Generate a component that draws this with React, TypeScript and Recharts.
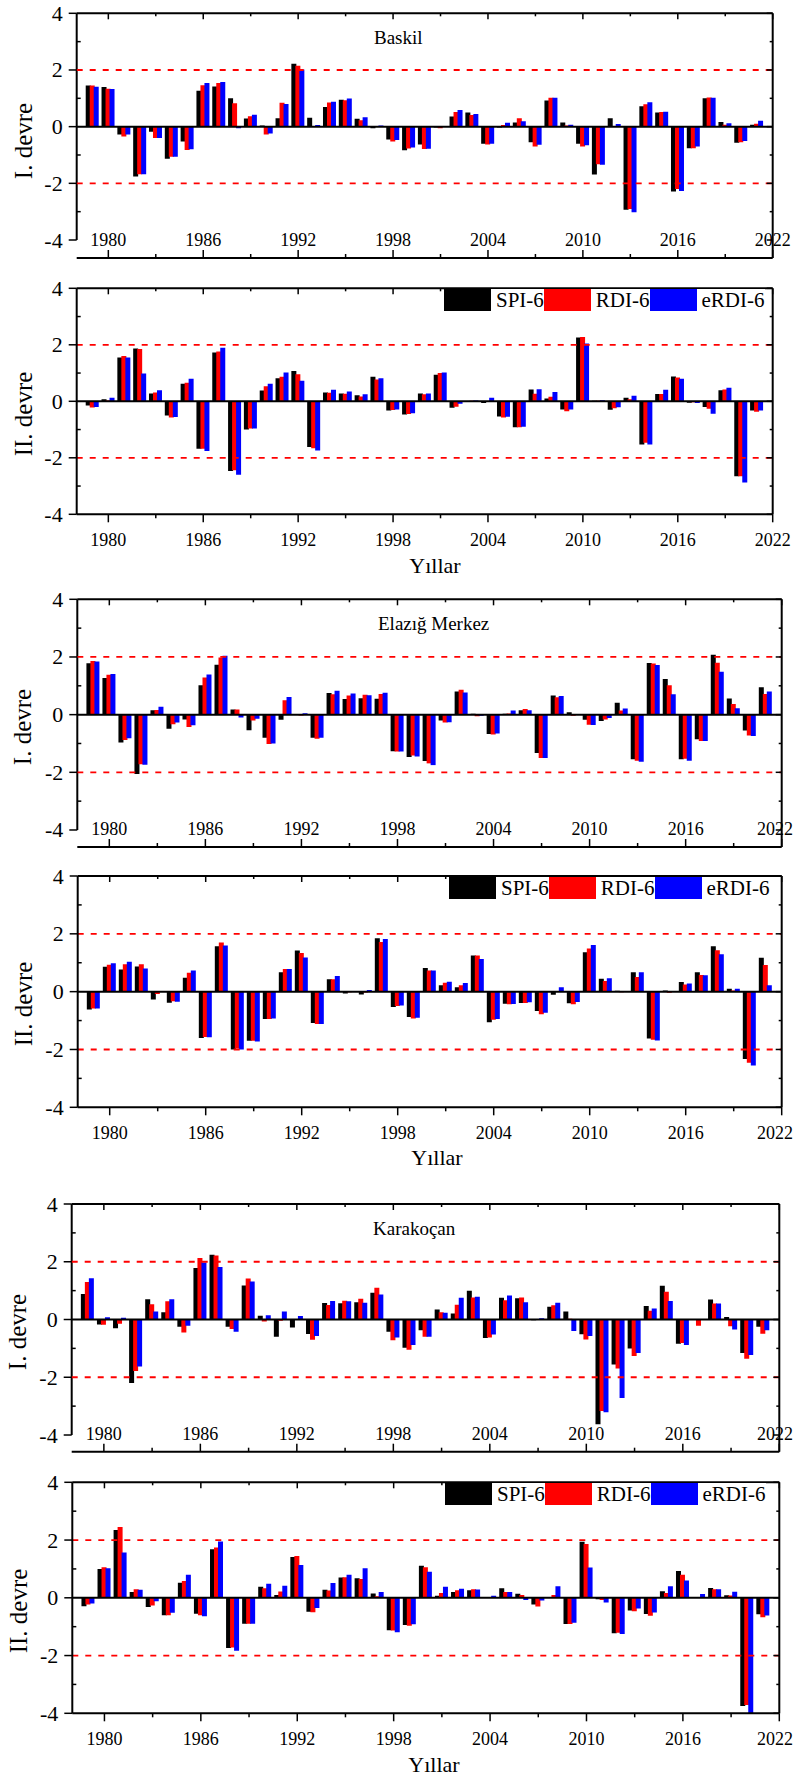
import React from 'react'
import { BarChart, Bar, XAxis, YAxis, ReferenceLine, Legend } from 'recharts'

const FONT = '"Liberation Serif", "Times New Roman", serif'
const PAGE_W = 794

const years = [
  1979, 1980, 1981, 1982, 1983, 1984, 1985, 1986, 1987, 1988,
  1989, 1990, 1991, 1992, 1993, 1994, 1995, 1996, 1997, 1998,
  1999, 2000, 2001, 2002, 2003, 2004, 2005, 2006, 2007, 2008,
  2009, 2010, 2011, 2012, 2013, 2014, 2015, 2016, 2017, 2018,
  2019, 2020, 2021,
]

const xTicks = [1980, 1983, 1986, 1989, 1992, 1995, 1998, 2001, 2004, 2007, 2010, 2013, 2016, 2019, 2022]
const yTicks = [-4, -3, -2, -1, 0, 1, 2, 3, 4]

// Baskil
const baskil1Spi = [
  1.45, 1.40, -0.28, -1.76, -0.18, -1.13, -0.52, 1.27, 1.42, 1.00,
  0.29, 0.04, 0.30, 2.22, 0.31, 0.69, 0.95, 0.28, -0.06, -0.45,
  -0.83, -0.63, -0.03, 0.36, 0.50, -0.60, -0.03, 0.15, -0.55, 0.92,
  0.15, -0.60, -1.69, 0.30, -2.93, 0.72, 0.50, -2.29, -0.76, 1.00,
  0.16, -0.57, 0.07,
]
const baskil1Rdi = [
  1.45, 1.34, -0.35, -1.68, -0.40, -1.06, -0.82, 1.46, 1.54, 0.83,
  0.37, -0.28, 0.84, 2.15, 0.00, 0.85, 0.93, 0.23, 0.00, -0.52,
  -0.77, -0.79, -0.06, 0.52, 0.41, -0.63, 0.06, 0.30, -0.70, 1.02,
  0.04, -0.70, -1.33, 0.02, -2.91, 0.79, 0.52, -2.20, -0.76, 1.03,
  0.07, -0.55, 0.10,
]
const baskil1Erdi = [
  1.41, 1.33, -0.28, -1.68, -0.40, -1.06, -0.80, 1.54, 1.58, -0.06,
  0.42, -0.24, 0.80, 2.02, 0.06, 0.88, 0.99, 0.33, 0.04, -0.47,
  -0.74, -0.78, -0.01, 0.59, 0.45, -0.60, 0.14, 0.19, -0.64, 1.02,
  0.07, -0.66, -1.34, 0.09, -3.02, 0.86, 0.53, -2.27, -0.70, 1.02,
  0.12, -0.51, 0.21,
]
const baskil2Spi = [
  -0.15, 0.07, 1.55, 1.87, 0.28, -0.50, 0.62, -1.68, 1.73, -2.47,
  -1.00, 0.38, 0.82, 1.07, -1.62, 0.31, 0.28, 0.21, 0.87, -0.33,
  -0.47, 0.28, 0.94, -0.23, 0.01, -0.06, -0.54, -0.92, 0.42, 0.10,
  -0.29, 2.26, 0.02, -0.30, 0.13, -1.53, 0.26, 0.88, -0.05, -0.20,
  0.39, -2.65, -0.33,
]
const baskil2Rdi = [
  -0.22, 0.03, 1.60, 1.85, 0.31, -0.57, 0.66, -1.68, 1.76, -2.44,
  -0.96, 0.53, 0.87, 0.96, -1.66, 0.30, 0.27, 0.17, 0.77, -0.31,
  -0.45, 0.25, 1.00, -0.19, 0.02, 0.00, -0.57, -0.92, 0.27, 0.16,
  -0.35, 2.28, 0.02, -0.25, 0.07, -1.47, 0.26, 0.84, -0.03, -0.26,
  0.42, -2.65, -0.37,
]
const baskil2Erdi = [
  -0.20, 0.13, 1.55, 0.98, 0.39, -0.56, 0.80, -1.76, 1.90, -2.60,
  -0.96, 0.62, 1.02, 0.73, -1.74, 0.41, 0.35, 0.25, 0.82, -0.29,
  -0.42, 0.28, 1.02, -0.09, 0.03, 0.13, -0.55, -0.90, 0.43, 0.33,
  -0.29, 2.05, 0.04, -0.21, 0.20, -1.53, 0.41, 0.80, -0.06, -0.44,
  0.48, -2.87, -0.33,
]

// Elazığ Merkez
const elazig1Spi = [
  1.78, 1.27, -0.97, -2.06, 0.15, -0.49, -0.17, 1.02, 1.73, 0.18,
  -0.54, -0.80, -0.18, 0.00, -0.80, 0.75, 0.54, 0.57, 0.55, -1.27,
  -1.47, -1.61, -0.20, 0.80, 0.03, -0.67, 0.03, 0.15, -1.33, 0.66,
  0.08, -0.18, -0.22, 0.41, -1.55, 1.79, 1.24, -1.55, -0.85, 2.08,
  0.56, -0.55, 0.95,
]
const elazig1Rdi = [
  1.86, 1.38, -0.88, -1.72, 0.16, -0.33, -0.43, 1.29, 1.98, 0.18,
  -0.20, -1.02, 0.50, -0.03, -0.84, 0.71, 0.66, 0.69, 0.72, -1.28,
  -1.42, -1.69, -0.27, 0.86, -0.06, -0.69, 0.04, 0.20, -1.50, 0.60,
  -0.04, -0.35, -0.17, 0.14, -1.60, 1.77, 1.02, -1.53, -0.91, 1.80,
  0.37, -0.72, 0.72,
]
const elazig1Erdi = [
  1.84, 1.41, -0.82, -1.74, 0.27, -0.27, -0.37, 1.39, 2.04, -0.10,
  -0.14, -1.00, 0.61, 0.05, -0.80, 0.83, 0.73, 0.67, 0.76, -1.28,
  -1.45, -1.75, -0.26, 0.77, -0.04, -0.65, 0.14, 0.15, -1.50, 0.65,
  0.02, -0.36, -0.12, 0.21, -1.63, 1.72, 0.71, -1.60, -0.91, 1.49,
  0.22, -0.74, 0.80,
]
const elazig2Spi = [
  -0.62, 0.86, 0.77, 0.87, -0.27, -0.38, 0.48, -1.60, 1.57, -2.00,
  -1.70, -0.95, 0.67, 1.42, -1.08, 0.43, -0.06, -0.10, 1.85, -0.53,
  -0.88, 0.82, 0.22, 0.15, 1.25, -1.06, -0.42, -0.39, -0.67, -0.11,
  -0.40, 1.36, 0.45, 0.03, 0.67, -1.62, 0.04, 0.33, 0.67, 1.57,
  0.10, -2.33, 1.17,
]
const elazig2Rdi = [
  -0.58, 0.93, 0.95, 0.95, -0.08, -0.33, 0.65, -1.57, 1.70, -1.97,
  -1.70, -0.95, 0.78, 1.34, -1.12, 0.43, -0.02, -0.03, 1.72, -0.50,
  -0.93, 0.73, 0.31, 0.22, 1.25, -0.97, -0.44, -0.39, -0.78, 0.00,
  -0.44, 1.49, 0.37, -0.02, 0.51, -1.66, -0.04, 0.25, 0.58, 1.43,
  0.04, -2.46, 0.92,
]
const elazig2Erdi = [
  -0.58, 0.98, 1.03, 0.80, 0.00, -0.35, 0.73, -1.58, 1.60, -2.00,
  -1.72, -0.93, 0.78, 1.18, -1.12, 0.54, 0.02, 0.06, 1.82, -0.48,
  -0.90, 0.73, 0.34, 0.30, 1.13, -0.95, -0.43, -0.37, -0.73, 0.15,
  -0.36, 1.61, 0.46, 0.02, 0.67, -1.69, 0.02, 0.28, 0.57, 1.29,
  0.10, -2.55, 0.22,
]

// Karakoçan
const karakocan1Spi = [
  0.88, -0.17, -0.30, -2.20, 0.70, 0.25, -0.25, 1.78, 2.24, -0.25,
  1.18, 0.13, -0.60, -0.28, -0.50, 0.57, 0.56, 0.60, 0.93, -0.42,
  -0.98, -0.37, 0.35, 0.21, 1.00, -0.64, 0.75, 0.74, -0.03, 0.44,
  0.28, -0.51, -3.63, -1.56, -1.00, 0.47, 1.17, -0.84, 0.00, 0.69,
  0.09, -1.16, -0.25,
]
const karakocan1Rdi = [
  1.30, -0.18, -0.15, -1.78, 0.53, 0.63, -0.45, 2.13, 2.22, -0.33,
  1.42, -0.07, -0.04, 0.00, -0.70, 0.50, 0.65, 0.72, 1.10, -0.72,
  -1.05, -0.60, 0.25, 0.51, 0.76, -0.62, 0.67, 0.76, -0.02, 0.49,
  0.03, -0.69, -3.17, -1.70, -1.26, 0.30, 0.96, -0.81, -0.22, 0.55,
  -0.23, -1.36, -0.49,
]
const karakocan1Erdi = [
  1.43, 0.08, 0.06, -1.63, 0.28, 0.70, -0.22, 1.97, 1.82, -0.42,
  1.32, 0.15, 0.28, 0.12, -0.57, 0.64, 0.63, 0.58, 0.87, -0.62,
  -0.88, -0.60, 0.23, 0.75, 0.79, -0.52, 0.83, 0.60, 0.04, 0.58,
  -0.40, -0.57, -3.21, -2.72, -1.16, 0.38, 0.64, -0.88, 0.00, 0.55,
  -0.35, -1.23, -0.37,
]
const karakocan2Spi = [
  -0.29, 1.00, 2.35, 0.20, -0.32, -0.60, 0.52, -0.55, 1.68, -1.74,
  -0.90, 0.38, 0.10, 1.41, -0.48, 0.28, 0.70, 0.68, 0.15, -1.12,
  -0.94, 1.11, 0.07, 0.20, 0.26, 0.00, 0.33, 0.14, -0.23, 0.00,
  -0.91, 1.94, -0.05, -1.23, -0.44, -0.56, 0.23, 0.93, 0.01, 0.34,
  0.09, -3.75, -0.57,
]
const karakocan2Rdi = [
  -0.23, 1.06, 2.45, 0.30, -0.27, -0.60, 0.58, -0.60, 1.74, -1.72,
  -0.90, 0.33, 0.22, 1.45, -0.50, 0.25, 0.71, 0.65, 0.05, -1.13,
  -0.97, 1.06, 0.17, 0.26, 0.30, 0.00, 0.20, 0.10, -0.30, 0.10,
  -0.91, 1.86, -0.08, -1.21, -0.47, -0.62, 0.17, 0.80, 0.00, 0.30,
  0.08, -3.71, -0.67,
]
const karakocan2Erdi = [
  -0.20, 1.02, 1.57, 0.28, -0.12, -0.52, 0.80, -0.64, 1.95, -1.83,
  -0.90, 0.49, 0.42, 1.14, -0.35, 0.51, 0.80, 1.02, 0.20, -1.19,
  -0.92, 0.90, 0.38, 0.31, 0.29, 0.07, 0.20, -0.08, -0.09, 0.40,
  -0.86, 1.05, -0.16, -1.25, -0.37, -0.51, 0.40, 0.60, 0.13, 0.30,
  0.21, -4.00, -0.61,
]

const series = [
  { key: 'spi', name: 'SPI-6', color: '#000000' },
  { key: 'rdi', name: 'RDI-6', color: '#ff0000' },
  { key: 'erdi', name: 'eRDI-6', color: '#0000ff' },
]

// plot box in page pixels; axes take 1px each so the margins are trimmed by that
interface PanelDef {
  spi: number[]
  rdi: number[]
  erdi: number[]
  top: number
  height: number
  plot: { left: number; right: number; top: number; bottom: number }
  yMin: number
  detached: boolean // bottom axis sits below the y-axis end, labels above it
  legendLeft?: number
}

const panels: PanelDef[] = [
  { spi: baskil1Spi, rdi: baskil1Rdi, erdi: baskil1Erdi, top: 0, height: 275,
    plot: { left: 76.7, right: 772.7, top: 13.3, bottom: 258 }, yMin: -4.635, detached: true },
  { spi: baskil2Spi, rdi: baskil2Rdi, erdi: baskil2Erdi, top: 275, height: 305,
    plot: { left: 76.7, right: 772.7, top: 288.3, bottom: 514.3 }, yMin: -4, detached: false, legendLeft: 444 },
  { spi: elazig1Spi, rdi: elazig1Rdi, erdi: elazig1Erdi, top: 585, height: 280,
    plot: { left: 77.3, right: 781.7, top: 599.3, bottom: 847 }, yMin: -4.59, detached: true },
  { spi: elazig2Spi, rdi: elazig2Rdi, erdi: elazig2Erdi, top: 865, height: 310,
    plot: { left: 77.7, right: 781.7, top: 876, bottom: 1107.3 }, yMin: -4, detached: false, legendLeft: 449 },
  { spi: karakocan1Spi, rdi: karakocan1Rdi, erdi: karakocan1Erdi, top: 1190, height: 275,
    plot: { left: 71.7, right: 779.3, top: 1204, bottom: 1451.7 }, yMin: -4.578, detached: true },
  { spi: karakocan2Spi, rdi: karakocan2Rdi, erdi: karakocan2Erdi, top: 1465, height: 312,
    plot: { left: 72.3, right: 779.3, top: 1482.3, bottom: 1713.3 }, yMin: -4, detached: false, legendLeft: 445 },
]

const yTitles = [
  { text: 'I. devre', x: 23, y: 141 },
  { text: 'II. devre', x: 23.5, y: 414 },
  { text: 'I. devre', x: 22, y: 727 },
  { text: 'II. devre', x: 23, y: 1004 },
  { text: 'I. devre', x: 17, y: 1332 },
  { text: 'II. devre', x: 18.5, y: 1611 },
]

const stations = [
  { text: 'Baskil', x: 374, y: 44 },
  { text: 'Elazığ Merkez', x: 378, y: 630 },
  { text: 'Karakoçan', x: 373, y: 1235 },
]

const xTitles = [
  { text: 'Yıllar', x: 435, y: 573 },
  { text: 'Yıllar', x: 437, y: 1165 },
  { text: 'Yıllar', x: 434, y: 1772 },
]

const isMajorYear = (v: number) => (v - 1980) % 6 === 0

function makeBottomTick(detached: boolean) {
  return (props: any) => {
    const { x, y, payload } = props
    const v = payload.value
    const major = isMajorYear(v)
    const dir = detached ? -1 : 1
    // keep the last year label inside the page
    const halfW = 18
    const tooFar = x + halfW > PAGE_W - 1
    return (
      <g>
        <line x1={x} x2={x} y1={y} y2={y + dir * (major ? 8 : 4)} stroke="#000" strokeWidth={1.5} />
        {major && (
          <text x={tooFar ? PAGE_W - 1 : x} y={detached ? y - 12 : y + 31.5}
            textAnchor={tooFar ? 'end' : 'middle'} fontSize={18} fontFamily={FONT} fill="#000">
            {v}
          </text>
        )}
      </g>
    )
  }
}

const topTick = (props: any) => {
  const { x, y, payload } = props
  const len = isMajorYear(payload.value) ? 6 : 3
  return <line x1={x} x2={x} y1={y} y2={y + len} stroke="#000" strokeWidth={1.5} />
}

const leftTick = (props: any) => {
  const { x, y, payload } = props
  const v = payload.value
  const major = v % 2 === 0
  return (
    <g>
      {major
        ? <line x1={x - 8} x2={x} y1={y} y2={y} stroke="#000" strokeWidth={1.5} />
        : <line x1={x} x2={x + 4} y1={y} y2={y} stroke="#000" strokeWidth={1.5} />}
      {major && (
        <text x={x - 14} y={y + 7.5} textAnchor="end" fontSize={22} fontFamily={FONT} fill="#000">
          {v}
        </text>
      )}
    </g>
  )
}

const rightTick = (props: any) => {
  const { x, y, payload } = props
  const len = payload.value % 2 === 0 ? 6 : 3
  return <line x1={x} x2={x - len} y1={y} y2={y} stroke="#000" strokeWidth={1.5} />
}

const renderLegend = () => (
  <div style={{ display: 'flex', alignItems: 'center', fontFamily: FONT, fontSize: 21,
    lineHeight: '22px', background: '#fff' }}>
    {series.map((s) => (
      <div key={s.key} style={{ display: 'flex', alignItems: 'center' }}>
        <div style={{ width: 47, height: 22, background: s.color }} />
        <span style={{ marginLeft: 5, color: '#000', whiteSpace: 'nowrap' }}>{s.name}</span>
      </div>
    ))}
  </div>
)

function Panel({ p }: { p: PanelDef }) {
  const rows = years.map((year, i) => ({ year, spi: p.spi[i], rdi: p.rdi[i], erdi: p.erdi[i] }))
  const margin = {
    left: p.plot.left - 1,
    right: PAGE_W - p.plot.right - 1,
    top: p.plot.top - p.top - 1,
    bottom: p.top + p.height - p.plot.bottom - 1,
  }
  const axisStroke = { stroke: '#000', strokeWidth: 2 }
  return (
    <div style={{ position: 'absolute', left: 0, top: p.top }}>
      <BarChart width={PAGE_W} height={p.height} data={rows} margin={margin}
        barCategoryGap="7%" barGap={-1}>
        <XAxis dataKey="year" type="number" domain={[1978, 2022]} ticks={xTicks} interval={0}
          allowDataOverflow height={1} tickSize={0} tickMargin={0} tickLine={false}
          axisLine={axisStroke} tick={makeBottomTick(p.detached)} />
        <XAxis xAxisId="top" orientation="top" dataKey="year" type="number" domain={[1978, 2022]}
          ticks={xTicks} interval={0} allowDataOverflow height={1} tickSize={0} tickMargin={0}
          tickLine={false} axisLine={axisStroke} tick={topTick} />
        <YAxis type="number" domain={[p.yMin, 4]} ticks={yTicks} interval={0} allowDataOverflow
          width={1} tickSize={0} tickMargin={0} tickLine={false}
          axisLine={p.detached ? false : axisStroke} tick={leftTick} />
        <YAxis yAxisId="right" orientation="right" type="number" domain={[p.yMin, 4]} ticks={yTicks}
          interval={0} allowDataOverflow width={1} tickSize={0} tickMargin={0} tickLine={false}
          axisLine={axisStroke} tick={rightTick} />
        {p.detached && (
          <ReferenceLine segment={[{ x: 1978, y: -4 }, { x: 1978, y: 4 }]} stroke="#000" strokeWidth={2} />
        )}
        <ReferenceLine y={2} stroke="#ff0000" strokeWidth={1.8} strokeDasharray="6 7" />
        <ReferenceLine y={-2} stroke="#ff0000" strokeWidth={1.8} strokeDasharray="6 7" />
        {series.map((s) => (
          <Bar key={s.key} dataKey={s.key} name={s.name} fill={s.color} isAnimationActive={false} />
        ))}
        <ReferenceLine y={0} stroke="#000" strokeWidth={2} />
        {p.legendLeft !== undefined && (
          <Legend layout="horizontal" verticalAlign="middle" align="center" content={renderLegend}
            wrapperStyle={{ top: p.plot.top - p.top + 1, left: p.legendLeft, width: 'auto', height: 22 }} />
        )}
      </BarChart>
    </div>
  )
}

export default function App() {
  return (
    <div style={{ position: 'absolute', left: 0, top: 0, width: PAGE_W, height: 1777, background: '#fff' }}>
      {panels.map((p, i) => <Panel key={i} p={p} />)}
      <svg width={PAGE_W} height={1777} style={{ position: 'absolute', left: 0, top: 0, pointerEvents: 'none' }}
        fontFamily={FONT}>
        {yTitles.map((t, i) => (
          <text key={i} transform={`translate(${t.x},${t.y}) rotate(-90)`} textAnchor="middle"
            dominantBaseline="central" fontSize={25} fill="#000">
            {t.text}
          </text>
        ))}
        {stations.map((t, i) => (
          <text key={i} x={t.x} y={t.y} fontSize={19} fill="#000">{t.text}</text>
        ))}
        {xTitles.map((t, i) => (
          <text key={i} x={t.x} y={t.y} textAnchor="middle" fontSize={22} fill="#000">{t.text}</text>
        ))}
      </svg>
    </div>
  )
}
